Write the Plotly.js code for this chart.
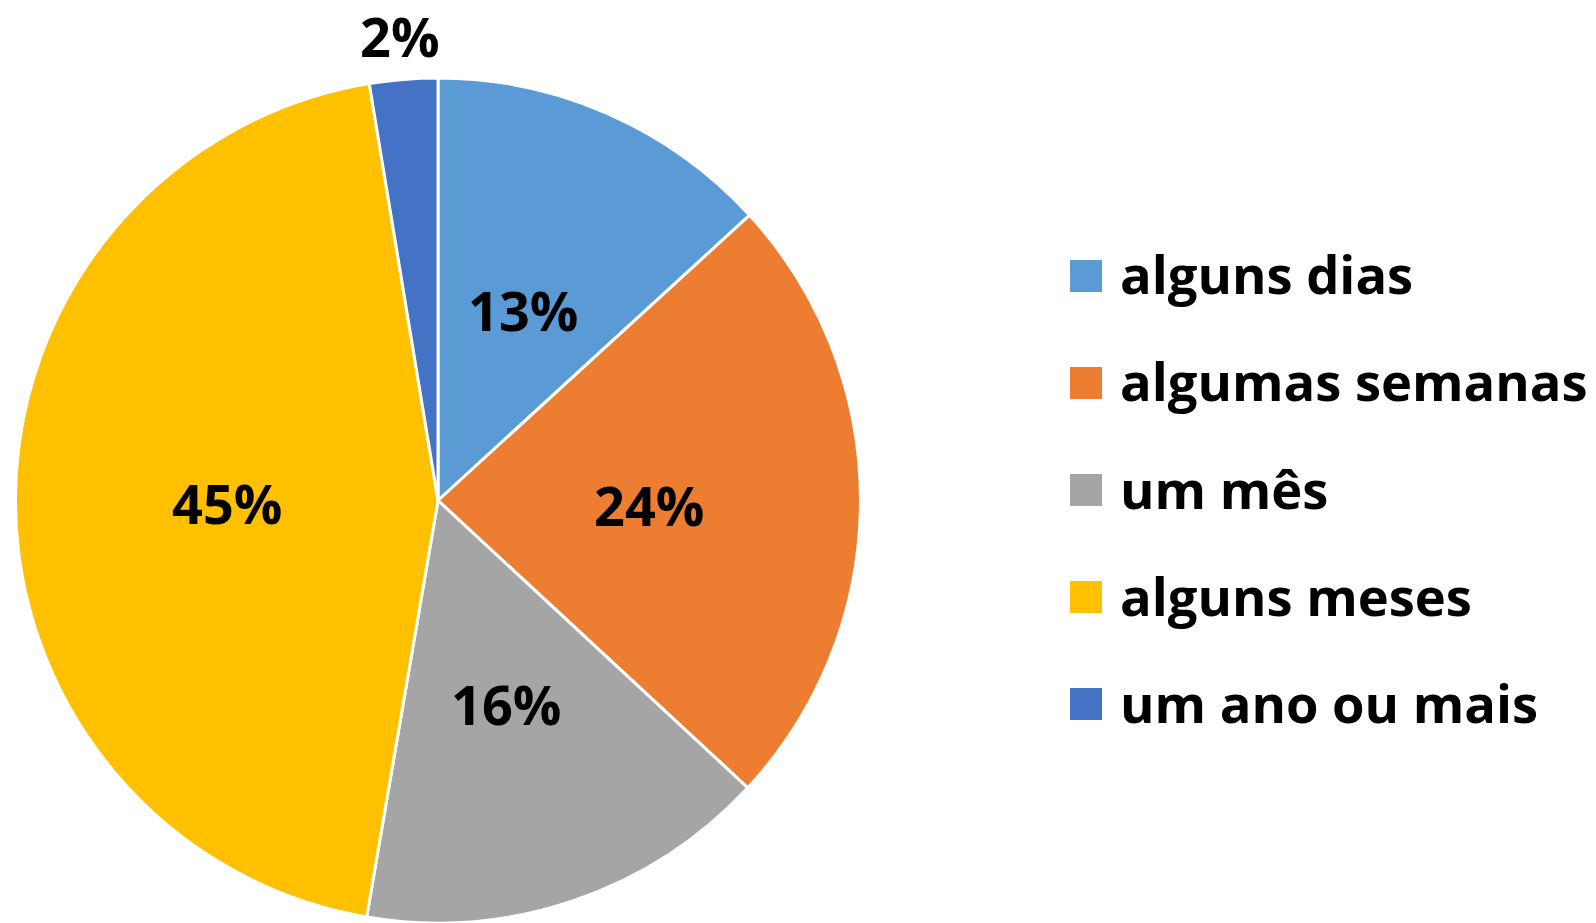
<!DOCTYPE html>
<html>
<head>
<meta charset="utf-8">
<script src="https://cdn.plot.ly/plotly-3.0.1.min.js"></script>
<style>
  html, body { margin: 0; padding: 0; background: #fff; }
  #chart { width: 1596px; height: 923px; }
</style>
</head>
<body>
<div id="chart"></div>
<script>
var categories = ['alguns dias', 'algumas semanas', 'um mês', 'alguns meses', 'um ano ou mais'];
var shares = [13.2, 23.7, 15.8, 44.7, 2.6];
var shareLabels = ['13%', '24%', '16%', '45%', '2%'];
var colors = ['#5B9BD5', '#ED7D31', '#A5A5A5', '#FFC000', '#4472C4'];
var outsideLabel = [false, false, false, false, true];

var W = 1596, H = 923;
var fontFam = '"Open Sans", "Noto Sans", sans-serif';

// pie box in pixels
var cx = 438, cy = 501, R = 423;

var data = [{
	type: 'pie',
	labels: categories,
	values: shares,
	textinfo: 'none',
	sort: false,
	direction: 'clockwise',
	rotation: 0,
	marker: {
		colors: colors,
		line: { color: '#ffffff', width: 3 }
	},
	domain: { x: [(cx - R) / W, (cx + R) / W], y: [1 - (cy + R) / H, 1 - (cy - R) / H] },
	hoverinfo: 'label+percent',
	showlegend: false
}];

var annotations = [];
var shapes = [];

// percentage labels, placed on each slice's middle angle
var total = shares.reduce(function(a, b) { return a + b; }, 0);
var cum = 0;
for (var i = 0; i < shares.length; i++) {
	var mid = (cum + shares[i] / 2) / total * 2 * Math.PI;
	cum += shares[i];
	var r = outsideLabel[i] ? 1.11 * R : 0.5 * R;
	var px = cx + r * Math.sin(mid);
	var py = cy - r * Math.cos(mid);
	annotations.push({
		xref: 'paper', yref: 'paper',
		x: px / W, y: 1 - (py + 3) / H,
		xanchor: 'center', yanchor: 'middle',
		text: shareLabels[i], showarrow: false,
		font: { family: fontFam, size: 54, color: '#000000', weight: 700 }
	});
}

// hand-made legend so the squares and spacing can match
for (var j = 0; j < categories.length; j++) {
	var yc = 276 + j * 107;
	shapes.push({
		type: 'rect', xref: 'paper', yref: 'paper',
		x0: 1070 / W, x1: 1102 / W,
		y0: 1 - (yc + 16) / H, y1: 1 - (yc - 16) / H,
		fillcolor: colors[j], line: { width: 0 }
	});
	annotations.push({
		xref: 'paper', yref: 'paper',
		x: 1118 / W, y: 1 - (yc - 2) / H,
		xanchor: 'left', yanchor: 'middle',
		text: categories[j], showarrow: false,
		font: { family: fontFam, size: 52.5, color: '#000000', weight: 700 }
	});
}

var layout = {
	width: W,
	height: H,
	margin: { l: 0, r: 0, t: 0, b: 0 },
	paper_bgcolor: '#ffffff',
	plot_bgcolor: '#ffffff',
	shapes: shapes,
	annotations: annotations
};

Plotly.newPlot('chart', data, layout, { displayModeBar: false, staticPlot: true });
</script>
</body>
</html>
